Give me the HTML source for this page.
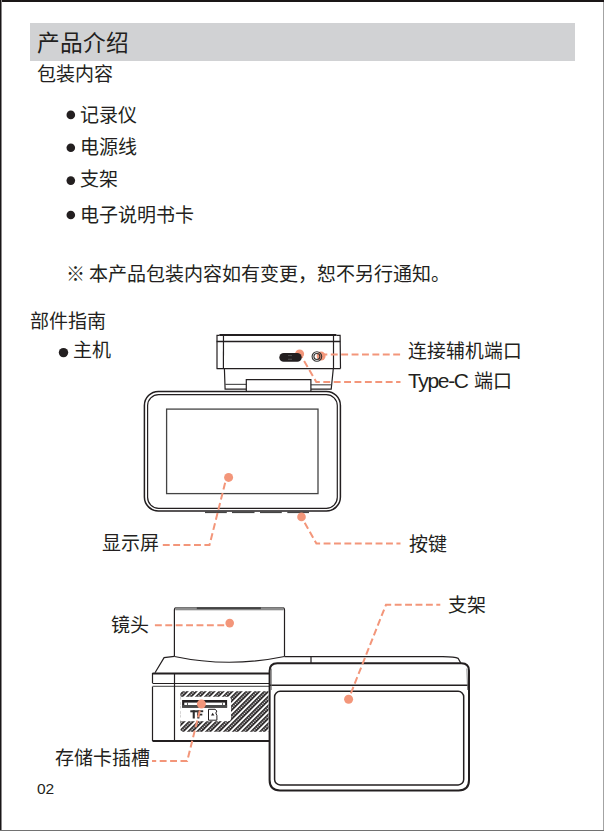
<!DOCTYPE html>
<html lang="zh-CN"><head><meta charset="utf-8">
<style>
html,body{margin:0;padding:0;background:#fff}
body{width:605px;height:831px;position:relative;overflow:hidden;font-family:"Liberation Sans",sans-serif;color:#231f20}
.t{position:absolute;white-space:nowrap;line-height:1;font-size:19px}
.bar{position:absolute;left:30px;top:23px;width:545px;height:38px;background:#d1d2d4}
svg{position:absolute;left:0;top:0}
</style></head><body>
<div class="bar"></div>
<div class="t" style="left:37px;top:31.6px;font-size:22.7px">产品介绍</div>
<div class="t" style="left:37px;top:65px">包装内容</div>
<div class="t" style="left:80px;top:106.4px">记录仪</div>
<div class="t" style="left:80px;top:138.3px">电源线</div>
<div class="t" style="left:80px;top:170.4px">支架</div>
<div class="t" style="left:80px;top:206.2px">电子说明书卡</div>
<div class="t" style="left:66px;top:265px">※</div>
<div class="t" style="left:88.7px;top:265px">本产品包装内容如有变更，恕不另行通知。</div>
<div class="t" style="left:29.6px;top:311.7px">部件指南</div>
<div class="t" style="left:73.3px;top:341.2px">主机</div>
<div class="t" style="left:407.7px;top:343.2px;font-size:18.8px">连接辅机端口</div>
<div class="t" style="left:408px;top:370.2px;font-size:21px;letter-spacing:-1.35px">Type-C</div>
<div class="t" style="left:474px;top:372px">端口</div>
<div class="t" style="left:101.8px;top:534.3px">显示屏</div>
<div class="t" style="left:409px;top:535px">按键</div>
<div class="t" style="left:111.4px;top:615.6px">镜头</div>
<div class="t" style="left:448px;top:596px">支架</div>
<div class="t" style="left:55px;top:749px">存储卡插槽</div>
<div class="t" style="left:37px;top:781.4px;font-size:15.5px">02</div>

<svg width="605" height="831" viewBox="0 0 605 831">
<defs>
<pattern id="hatch" patternUnits="userSpaceOnUse" width="6.36" height="2.2" patternTransform="translate(180,691) rotate(45)">
<rect width="6.36" height="2.2" fill="#231f20"/>
<rect x="0" y="0" width="1.9" height="2.2" fill="#fff"/>
<circle cx="4.1" cy="1.1" r="0.8" fill="#fff"/>
</pattern>
</defs>
<!-- page frame -->
<rect x="0" y="0" width="604" height="2" fill="#1a1617"/>
<rect x="0" y="0" width="1" height="831" fill="#1a1617"/>
<rect x="1" y="0" width="1" height="831" fill="#8a8889"/>
<rect x="603" y="2" width="1" height="829" fill="#a3a3a3"/>
<rect x="0" y="830" width="604" height="1" fill="#727272"/>

<!-- bullets -->
<g fill="#231f20">
<circle cx="70.8" cy="114.9" r="4.3"/>
<circle cx="70.8" cy="147.7" r="4.3"/>
<circle cx="70.8" cy="180.6" r="4.3"/>
<circle cx="70.8" cy="215" r="4.3"/>
<circle cx="63.5" cy="352.6" r="4.7"/>
</g>

<!-- ===== main unit: lines ===== -->
<g fill="none" stroke="#231f20" stroke-width="1.2">
<path d="M217,368.6 V335.4 H219.5"/>
<line x1="219.4" y1="335" x2="336.4" y2="335" stroke-width="1.8"/>
<path d="M336.4,335.3 H340.1 L340.5,368.6"/>
<line x1="216.6" y1="368.6" x2="340.5" y2="368.6"/>
<line x1="216.6" y1="341.6" x2="340.3" y2="341.6" stroke-width="1.5"/>
<line x1="223.5" y1="334.6" x2="223.4" y2="368.6"/>
<line x1="333.5" y1="334.6" x2="333.5" y2="368.6"/>
<path d="M224.4,368.6 L225.1,389.2 H246.3"/>
<path d="M333.3,368.6 L331.2,389.2 H310.9"/>
<line x1="225" y1="384.4" x2="246.3" y2="384.4" stroke="#555"/>
<line x1="310.9" y1="384.8" x2="331.5" y2="384.8" stroke="#555"/>
<path d="M246.3,391 V379.6 H310.9 V391"/>
<rect x="144.4" y="391.4" width="196" height="119.6" rx="14" stroke-width="1.5"/>
<rect x="147.6" y="394.6" width="189.7" height="113.7" rx="11"/>
<rect x="166.6" y="409.1" width="151.4" height="84.5" stroke="#444" stroke-width="1.3"/>
</g>
<g fill="#231f20">
<rect x="205" y="511.6" width="21.8" height="1.5" fill="#444"/>
<rect x="232" y="511.6" width="22.5" height="1.5" fill="#444"/>
<rect x="260" y="511.6" width="21.8" height="1.5" fill="#444"/>
<rect x="287.3" y="511.6" width="21.7" height="1.5" fill="#444"/>
</g>

<!-- ===== main unit: callouts (over) ===== -->
<g fill="none" stroke="#f3967a" stroke-width="2" stroke-dasharray="6.9 3.5">
<path d="M400.1,354.6 H321"/>
<path d="M400.5,381.9 H316.3 L300,353.9" stroke-dashoffset="2.5"/>
<path d="M162.8,545.1 H209.5 L226.5,477.4"/>
<path d="M400.5,543.6 H316.4 L301.5,516.9" stroke-dashoffset="2.8"/>
</g>
<g fill="#f3967a">
<circle cx="321.1" cy="356.1" r="4.5"/>
<circle cx="299.6" cy="353.9" r="4.5"/>
<circle cx="228.6" cy="477.4" r="4.5"/>
<circle cx="301.5" cy="516.9" r="4.3"/>
</g>

<g fill="none" stroke-width="1.1">
<circle cx="316.9" cy="356.5" r="4.8" stroke="#333"/>
<circle cx="316.9" cy="356.5" r="3" stroke="#333"/>
</g>
<rect x="279.3" y="353" width="22.4" height="8.8" rx="4.4" fill="#231f20"/>
<rect x="288" y="355.2" width="4" height="0.9" fill="#555"/>
<rect x="288" y="358.8" width="4" height="0.9" fill="#555"/>

<!-- ===== bottom unit ===== -->
<g fill="none" stroke="#231f20" stroke-width="1.2">
<!-- lens -->
<path d="M174.4,656.5 V610 Q174.4,607.6 176.8,607.6 H282.1 Q284.5,607.6 284.5,610 V656.5"/>
<path d="M174.4,656.5 Q229,668 284.5,656.5"/>
<rect x="175.3" y="607.2" width="108.3" height="3.1" fill="#8c8c8c" stroke="none"/>
<rect x="196.8" y="607.2" width="64.1" height="1.9" fill="#444" stroke="none"/>
<!-- body -->
<path d="M174.4,656.4 L164.1,657.6 L155,672.7"/>
<path d="M284.5,656.7 H442.8 Q455,657 458.2,658.4 L460.7,662.9"/>
<line x1="311" y1="656.7" x2="311" y2="663"/>
<path d="M152.5,673.6 H269" stroke-width="2"/>
<path d="M152.5,673 V683 M152.5,686.5 V741"/>
<line x1="152.5" y1="683.5" x2="269" y2="683.5"/>
<line x1="152.5" y1="686.4" x2="269" y2="686.4" stroke="#666"/>
<line x1="174.5" y1="673" x2="174.5" y2="741"/>
<line x1="152.5" y1="741" x2="269" y2="741" stroke-width="1.8"/>
<!-- stand -->
<path d="M269.6,780 V671 Q269.6,663.3 277.3,663.3 H461.5 Q469,663.3 469,670.8 V780 Q469,790.4 458.6,790.4 H280 Q269.6,790.4 269.6,780 Z" stroke-width="2"/>
<line x1="269" y1="685.3" x2="469.1" y2="685.3" stroke-width="1.5"/>
<path d="M466.9,668.5 L467.6,690 M271.3,668.5 V690" stroke="#666" stroke-width="0.8"/>
<rect x="274.6" y="691.3" width="189.1" height="93.6" rx="5.5" stroke-width="1.5"/>
</g>
<!-- hatch -->
<path d="M183.5,691.3 H268.4 V731.8 H183.5 Q180.3,731.8 180.3,728.6 V694.5 Q180.3,691.3 183.5,691.3 Z" fill="url(#hatch)"/>
<path d="M180.3,696.7 H228 Q231,696.7 231,699.7 V718.2 Q231,721.2 228,721.2 H180.3 Z" fill="#fff"/>
<rect x="182.1" y="700" width="45" height="7.7" fill="#231f20"/>
<rect x="182.1" y="705" width="45" height="2.7" fill="#4a4a4a"/>
<rect x="184.3" y="702.6" width="40.8" height="2.4" fill="#fff"/>
<rect x="187" y="702.6" width="0.9" height="2.4" fill="#555"/>
<rect x="222" y="702.6" width="0.9" height="2.4" fill="#555"/>
<g fill="#2e2e2e">
<rect x="190.3" y="710.3" width="6.9" height="2"/>
<rect x="192.7" y="710.3" width="2.1" height="8.2"/>
<rect x="197.3" y="710.3" width="2.1" height="8.2"/>
<rect x="197.3" y="710.3" width="5.9" height="1.9"/>
<rect x="197.3" y="713.7" width="5" height="1.8"/>
</g>
<path d="M208.5,709.3 H215 L216.9,711 L215.8,713 L216.9,715.5 V720.2 H208.5 Z" fill="#fff" stroke="#231f20" stroke-width="1"/>
<path d="M211,715.5 L212.7,712.8 L214.4,715.5 Z" fill="#231f20"/>

<!-- bottom callouts (over) -->
<g fill="none" stroke="#f3967a" stroke-width="2" stroke-dasharray="6.9 3.5">
<path d="M154.9,625.3 H229.6"/>
<path d="M440.3,604.7 H386 L348.5,699.3" stroke-dashoffset="2.9"/>
<path d="M152,761.1 H187.2 L201.4,704" stroke-dashoffset="2.7"/>
</g>
<g fill="#f3967a">
<circle cx="229.7" cy="623.1" r="4.3"/>
<circle cx="348.6" cy="699.3" r="4.5"/>
<circle cx="201.4" cy="704" r="4.5"/>
</g>
</svg>
</body></html>
